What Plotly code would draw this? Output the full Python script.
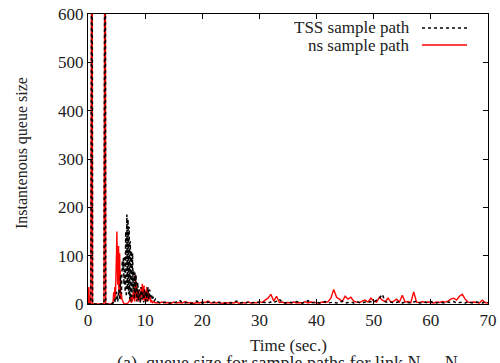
import plotly.graph_objects as go

# ---------------- data ----------------
# TSS sample path (early transient, seconds / queue size)
tss_t_early = [0, 0.5, 0.7, 0.8, 1.0, 2.8, 3.0, 3.1, 3.3, 4.0, 4.4, 4.6, 4.8, 5.0, 5.2, 5.4,
               5.55, 5.7, 5.85, 6.0, 6.1, 6.2, 6.3, 6.4, 6.5, 6.6, 6.7, 6.8, 6.9,
               7.0, 7.1, 7.2, 7.3, 7.4, 7.5, 7.6, 7.7, 7.8, 7.9, 8.0, 8.1, 8.2, 8.3, 8.4,
               8.55, 8.7, 8.85, 9.0, 9.15, 9.3, 9.45, 9.6, 9.75, 9.9,
               10.05, 10.2, 10.35, 10.5, 10.65, 10.8, 10.95, 11.1, 11.25, 11.4,
               11.6, 11.8]
tss_q_early = [0, 0, 1200, 0, 0, 0, 1200, 0, 0, 0, 2, 10, 3, 25, 5, 30,
               8, 60, 20, 90, 70, 95, 40, 100, 25, 150, 15, 185, 30,
               175, 20, 160, 10, 130, 5, 110, 15, 105, 30, 70, 10, 65, 20, 60,
               5, 45, 8, 30, 2, 35, 10, 25, 3, 30,
               15, 25, 5, 35, 10, 30, 15, 20, 8, 15,
               6, 10]

# ns sample path (early transient)
ns_t_early = [0, 0.05, 0.15, 0.25, 0.5, 0.7, 0.8, 1.0, 2.8, 3.0, 3.1, 3.3,
              4.2, 4.4, 4.5, 4.6, 4.7, 4.8, 4.9, 4.95, 5.0, 5.05, 5.1, 5.15,
              5.2, 5.25, 5.3, 5.35, 5.4, 5.45, 5.5, 5.55, 5.6, 5.65, 5.7, 5.8,
              5.95, 6.1, 6.3, 6.6, 7.0, 7.3,
              7.5, 7.6, 7.7, 7.8, 7.9, 8.0, 8.1, 8.2, 8.3, 8.4, 8.5, 8.6,
              8.7, 8.8, 8.9, 9.0, 9.1, 9.2, 9.3, 9.4, 9.5, 9.6, 9.7, 9.8, 9.9, 10.0,
              10.1, 10.2, 10.3, 10.4, 10.5, 10.6, 10.7, 10.8, 10.9, 11.0, 11.1, 11.3,
              11.5, 11.75]
ns_q_early = [0, 10, 35, 0, 0, 1200, 0, 0, 0, 1200, 0, 0,
              0, 5, 25, 8, 35, 15, 60, 30, 110, 150, 60, 130,
              40, 90, 30, 120, 25, 100, 20, 105, 15, 70, 10, 25,
              10, 3, 0, 0, 2, 8,
              15, 2, 18, 5, 25, 10, 35, 5, 60, 12, 40, 8,
              25, 5, 30, 10, 20, 4, 35, 15, 42, 8, 20, 38, 6, 12,
              28, 5, 35, 10, 30, 6, 22, 10, 15, 3, 8, 3,
              5, 2]

# steady-state part, sampled every 0.5 s from t = 12 s to 70 s
tail_start = 12.0
tail_step = 0.5
tss_q_tail = [6, 3, 2, 4, 1, 3, 2, 4, 8, 3, 2, 4, 1, 3, 6, 2, 3, 1, 4, 2,
              3, 5, 2, 3, 1, 4, 2, 3, 6, 2, 3, 1, 4, 2, 3, 5, 2, 4, 3, 2,
              4, 3, 6, 10, 3, 2, 4, 3, 2, 5, 3, 2, 4, 7, 2, 3, 4, 2, 3, 5,
              2, 3, 4, 2, 3, 6, 2, 3, 4, 2, 5, 3, 2, 4, 3, 5, 4, 8, 12, 20,
              5, 3, 4, 2, 3, 5, 2, 4, 3, 2, 4, 6, 2, 3, 4, 2, 5, 3, 2, 4,
              3, 2, 4, 3, 5, 2, 3, 4, 2, 5, 3, 2, 4, 3, 2, 4, 3]
ns_q_tail = [3, 2, 4, 2, 3, 1, 4, 2, 3, 2, 5, 2, 3, 1, 3, 2, 4, 3, 6, 2,
             3, 2, 4, 1, 3, 2, 3, 2, 4, 1, 3, 2, 4, 2, 3, 2, 5, 3, 8, 12,
             20, 6, 16, 3, 4, 2, 3, 2, 4, 2, 3, 2, 5, 2, 4, 3, 3, 2, 4, 3,
             5, 12, 30, 14, 10, 5, 16, 10, 14, 6, 4, 3, 6, 8, 4, 12, 6, 4, 14, 8,
             5, 12, 4, 6, 10, 4, 18, 4, 5, 3, 25, 4, 3, 5, 3, 4, 3, 2, 4, 3,
             5, 4, 6, 10, 12, 8, 16, 20, 10, 4, 3, 4, 3, 2, 8, 3, 2]

tss_t_tail = [tail_start + tail_step * i for i in range(len(tss_q_tail))]
ns_t_tail = [tail_start + tail_step * i for i in range(len(ns_q_tail))]

tss_t = tss_t_early + tss_t_tail
tss_q = tss_q_early + tss_q_tail
ns_t = ns_t_early + ns_t_tail
ns_q = ns_q_early + ns_q_tail

x_ticks = [0, 10, 20, 30, 40, 50, 60, 70]
y_ticks = [0, 100, 200, 300, 400, 500, 600]

series_names = ["TSS sample path", "ns sample path"]

# ---------------- figure ----------------
W, H = 500, 363
L, R, T, B = 88, 12, 14, 59
PW, PH = W - L - R, H - T - B

def px_x(px):
    return (px - L) / PW

def px_y(py):
    return (H - B - py) / PH

FONT = "Liberation Serif"
TXT = "#222222"

fig = go.Figure()
fig.add_trace(go.Scatter(x=ns_t, y=ns_q, mode="lines", name=series_names[1],
                         line=dict(color="#ff0000", width=1.4), showlegend=False))
fig.add_trace(go.Scatter(x=tss_t, y=tss_q, mode="lines", name=series_names[0],
                         line=dict(color="#000000", width=1.5, dash="dot"), showlegend=False))

axis_common = dict(showgrid=False, zeroline=False, showline=True, linecolor="black",
                   linewidth=1.3, mirror="ticks", ticks="inside", ticklen=5,
                   tickcolor="black", tickwidth=1,
                   tickfont=dict(family=FONT, size=17, color=TXT))

fig.update_xaxes(range=[0, 70], tickvals=x_ticks, ticktext=[str(v) for v in x_ticks],
                 **axis_common)
fig.update_yaxes(range=[0, 600], tickvals=y_ticks, ticktext=[str(v) for v in y_ticks],
                 **axis_common)

annotations = [
    dict(text="Instantenous queue size", x=px_x(22), y=px_y(153), xref="paper", yref="paper",
         textangle=-90, showarrow=False, font=dict(family=FONT, size=16, color=TXT),
         xanchor="center", yanchor="middle"),
    dict(text="Time (sec.)", x=px_x(288), y=px_y(345), xref="paper", yref="paper",
         showarrow=False, font=dict(family=FONT, size=17, color=TXT),
         xanchor="center", yanchor="middle"),
    dict(text="(a)  queue size for sample paths for link N<sub>1</sub> \u2013 N<sub>2</sub>",
         x=px_x(290), y=px_y(351), xref="paper", yref="paper",
         showarrow=False, font=dict(family=FONT, size=18, color=TXT),
         xanchor="center", yanchor="top"),
    dict(text=series_names[0], x=px_x(412), y=px_y(28), xref="paper", yref="paper",
         showarrow=False, font=dict(family=FONT, size=17, color=TXT),
         xanchor="right", yanchor="middle"),
    dict(text=series_names[1], x=px_x(412), y=px_y(45), xref="paper", yref="paper",
         showarrow=False, font=dict(family=FONT, size=17, color=TXT),
         xanchor="right", yanchor="middle"),
]

shapes = [
    dict(type="line", xref="paper", yref="paper", x0=px_x(422), x1=px_x(467),
         y0=px_y(28), y1=px_y(28), line=dict(color="black", width=1.5, dash="dot")),
    dict(type="line", xref="paper", yref="paper", x0=px_x(422), x1=px_x(467),
         y0=px_y(45), y1=px_y(45), line=dict(color="#ff0000", width=1.4)),
]

fig.update_layout(width=W, height=H, margin=dict(l=L, r=R, t=T, b=B, autoexpand=False),
                  paper_bgcolor="white", plot_bgcolor="white",
                  font=dict(family=FONT, color=TXT),
                  annotations=annotations, shapes=shapes, showlegend=False)

fig.write_html("out.html")
